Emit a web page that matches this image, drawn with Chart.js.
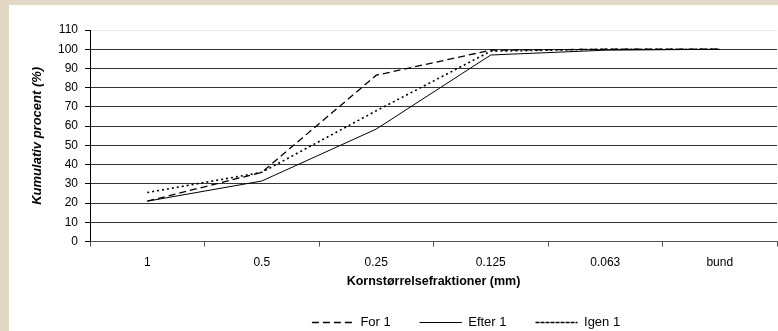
<!DOCTYPE html>
<html>
<head>
<meta charset="utf-8">
<script src="https://cdn.jsdelivr.net/npm/chart.js@4"></script>
<style>
  html, body { margin: 0; padding: 0; background: #e3d7c5; }
  body { width: 778px; height: 331px; position: relative; overflow: hidden; }
  #panel { position: absolute; left: 9px; top: 5px; width: 769px; height: 326px; background: #fff; }
  canvas { display: block; }
</style>
</head>
<body>
<div id="panel"><canvas id="c" width="769" height="326"></canvas></div>
<script>
const categories = ['1', '0.5', '0.25', '0.125', '0.063', 'bund'];
const seriesNames = ['For 1', 'Efter 1', 'Igen 1'];
const for1   = [21, 36, 86.5, 99.5, 100, 100];
const efter1 = [21, 31.5, 58.5, 97, 99.5, 100];
const igen1  = [25.5, 36, 68, 99, 100, 100];
const yTicks = [0, 10, 20, 30, 40, 50, 60, 70, 80, 90, 100, 110];

const fam = 'Liberation Sans, Arial, sans-serif';
const EM = '\u2003';

new Chart(document.getElementById('c'), {
  type: 'line',
  data: {
    labels: categories,
    datasets: [
      { label: seriesNames[0], data: for1, borderColor: '#000', borderWidth: 1.3, borderDash: [7, 4], pointRadius: 0, fill: false, tension: 0 },
      { label: seriesNames[1], data: efter1, borderColor: '#000', borderWidth: 1, pointRadius: 0, fill: false, tension: 0 },
      { label: seriesNames[2], data: igen1, borderColor: '#000', borderWidth: 1.6, borderDash: [2, 3], pointRadius: 0, fill: false, tension: 0 }
    ]
  },
  options: {
    responsive: false,
    animation: false,
    layout: { padding: { top: 25, right: 1, left: 0, bottom: -8 } },
    plugins: {
      legend: {
        position: 'bottom',
        align: 'end',
        labels: {
          color: '#000',
          font: { family: fam, size: 13 },
          boxWidth: 42,
          boxHeight: 0,
          padding: 3,
          generateLabels: (chart) => {
            const items = Chart.defaults.plugins.legend.labels.generateLabels(chart);
            items.forEach((it, i) => {
              it.text = it.text + (i < items.length - 1 ? EM.repeat(2) : EM.repeat(11) + '   ');
            });
            return items;
          }
        }
      },
      tooltip: { enabled: false }
    },
    scales: {
      x: {
        offset: true,
        grid: { display: true, drawOnChartArea: false, offset: true, color: '#555', tickLength: 5 },
        border: { color: '#555', width: 1 },
        ticks: { color: '#000', font: { family: fam, size: 12 }, padding: 9, maxRotation: 0 },
        title: {
          display: true,
          text: 'Kornstørrelsefraktioner (mm)',
          color: '#000',
          font: { family: fam, size: 12.5, weight: 'bold' },
          padding: { top: -5, bottom: 24 }
        }
      },
      y: {
        min: 0, max: 110,
        afterBuildTicks: (s) => { s.ticks = yTicks.map(v => ({ value: v })); },
        afterFit: (s) => { s.width = 81; },
        grid: {
          color: (ctx) => (ctx.tick && ctx.tick.value === 110) ? '#e8e8e8' : '#333',
          tickColor: '#000',
          tickLength: 5
        },
        border: { color: '#000', width: 1 },
        ticks: { color: '#000', font: { family: fam, size: 12 }, padding: 7 },
        title: {
          display: true,
          text: 'Kumulativ procent (%)',
          color: '#000',
          font: { family: fam, size: 13, weight: 'bold', style: 'italic' },
          padding: { top: 21, bottom: 0 }
        }
      }
    }
  }
});
</script>
</body>
</html>
